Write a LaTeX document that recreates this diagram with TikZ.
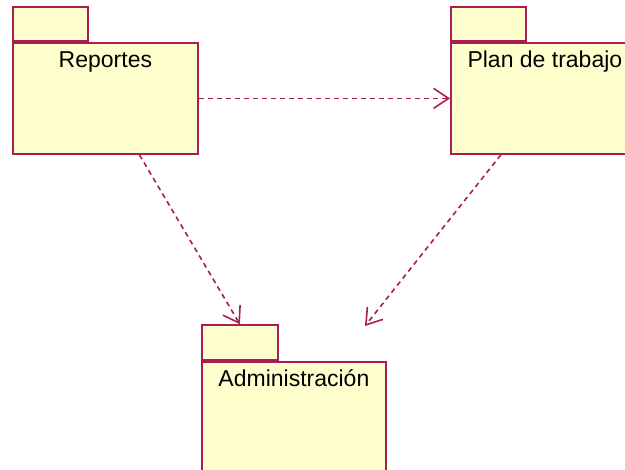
\documentclass[tikz,border=0pt]{standalone}
\usepackage{fontspec}
\setmainfont{Liberation Sans}
\usetikzlibrary{calc,arrows.meta}
\definecolor{pkgline}{RGB}{168,30,80}
\definecolor{pkgfill}{RGB}{255,255,206}
\tikzset{
	pkgbody/.style={draw=pkgline, fill=pkgfill, line width=1.8pt, anchor=north west, minimum width=185pt, minimum height=111pt, inner sep=0pt},
	pkgtab/.style={draw=pkgline, fill=pkgfill, line width=1.8pt, anchor=south west, minimum width=75pt, minimum height=34pt, inner sep=0pt},
	pkgname/.style={anchor=base, font=\fontsize{23}{26}\selectfont, inner sep=0pt},
	depend/.style={draw=pkgline, line width=1.6pt, dash pattern=on 5pt off 4pt, -{Straight Barb[length=15pt,width=20pt,line width=1.6pt]}}
}

\begin{document}
\begin{tikzpicture}[x=1pt, y=-1pt]
		%%%%% START %%%%%
		
		\useasboundingbox (0, 0) rectangle (625, 470);
		
		% packages
		\node[pkgbody] (rep) at (12, 42) {};
		\node[pkgtab] (reptab) at (rep.north west) {};
		\node[pkgname] (repname) at ($(rep.north)+(0, 26)$) {Reportes};
		
		\node[pkgbody, minimum width=190pt] (plan) at (450, 42) {};
		\node[pkgtab] (plantab) at (plan.north west) {};
		\node[pkgname] (planname) at ($(plan.north)+(-1, 26)$) {Plan de trabajo};
		
		\node[pkgbody, minimum width=184pt] (adm) at (201, 361) {};
		\node[pkgtab, minimum width=76pt, minimum height=35pt] (admtab) at (adm.north west) {};
		\node[pkgname] (admname) at ($(adm.north)+(0, 26)$) {Administración};
		
		% dependencies
		\coordinate (planend) at (365, 326);
		\draw[depend] (rep.east) -- (plan.west);
		\draw[depend] ($(rep.south)+(34, 0)$) -- (admtab.north);
		\draw[depend] ($(plan.south)+(-45, 0)$) -- (planend);
		
		%%%%% END %%%%%
	\end{tikzpicture}
\end{document}
